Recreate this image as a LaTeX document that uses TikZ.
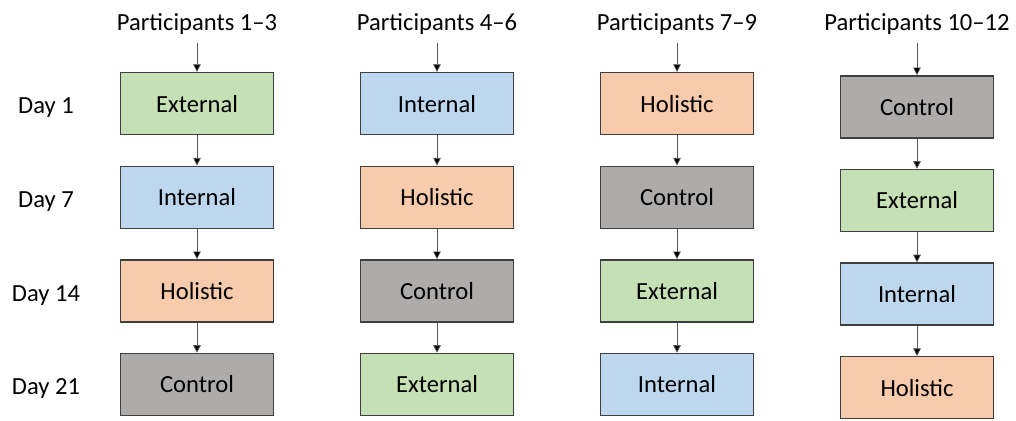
\documentclass[tikz,border=0pt]{standalone}
\usepackage{fontspec}
\setmainfont{Carlito}
\usetikzlibrary{positioning,arrows.meta}
\definecolor{extgreen}{HTML}{C5E0B4}
\definecolor{intblue}{HTML}{BDD7EE}
\definecolor{holorange}{HTML}{F8CBAD}
\definecolor{ctrlgray}{HTML}{AEABAB}
\definecolor{boxline}{HTML}{3F3F3F}
\begin{document}
\begin{tikzpicture}[node distance = 0.755cm and 2.14cm,
    box/.style = {draw = boxline, line width = 1pt, minimum width = 3.825cm, minimum height = 1.55cm, font = \fontsize{17.5}{20}\selectfont},
    label/.style = {font = \fontsize{17.5}{20}\selectfont},
    arr/.style = {draw = black!65, line width = 0.5pt, -{Triangle[length = 1.9mm, width = 1.9mm, fill = black]}}]
      \useasboundingbox (0,0) rectangle (25.4,-10.5);

      % first column
      \node[box, fill = extgreen] (a1) at (4.925,-2.59) {External};
      \node[box, fill = intblue] (a2) [below = of a1] {Internal};
      \node[box, fill = holorange] (a3) [below = of a2] {Holistic};
      \node[box, fill = ctrlgray] (a4) [below = of a3] {Control};

      % second column
      \node[box, fill = intblue] (b1) [right = of a1] {Internal};
      \node[box, fill = holorange] (b2) [below = of b1] {Holistic};
      \node[box, fill = ctrlgray] (b3) [below = of b2] {Control};
      \node[box, fill = extgreen] (b4) [below = of b3] {External};

      % third column
      \node[box, fill = holorange] (c1) [right = of b1] {Holistic};
      \node[box, fill = ctrlgray] (c2) [below = of c1] {Control};
      \node[box, fill = extgreen] (c3) [below = of c2] {External};
      \node[box, fill = intblue] (c4) [below = of c3] {Internal};

      % fourth column
      \node[box, fill = ctrlgray] (d1) [right = of c1, yshift = -0.08cm] {Control};
      \node[box, fill = extgreen] (d2) [below = of d1] {External};
      \node[box, fill = intblue] (d3) [below = of d2] {Internal};
      \node[box, fill = holorange] (d4) [below = of d3] {Holistic};

      % titles
      \node[label] (ta) [above = 0.82cm of a1] {Participants 1–3};
      \node[label] (tb) [above = 0.82cm of b1] {Participants 4–6};
      \node[label] (tc) [above = 0.82cm of c1] {Participants 7–9};
      \node[label] (td) [above = 0.9cm of d1] {Participants 10–12};

      % days
      \node[label] (day1) at (1.15,-2.68) {Day 1};
      \node[label] (day7) at (1.15,-5.03) {Day 7};
      \node[label] (day14) at (1.15,-7.38) {Day 14};
      \node[label] (day21) at (1.15,-9.71) {Day 21};

      \path[arr, shorten < = 3pt] (ta) edge (a1) (tb) edge (b1) (tc) edge (c1) (td) edge (d1);
      \path[arr] (a1) edge (a2) (a2) edge (a3) (a3) edge (a4);
      \path[arr] (b1) edge (b2) (b2) edge (b3) (b3) edge (b4);
      \path[arr] (c1) edge (c2) (c2) edge (c3) (c3) edge (c4);
      \path[arr] (d1) edge (d2) (d2) edge (d3) (d3) edge (d4);
    \end{tikzpicture}
\end{document}
